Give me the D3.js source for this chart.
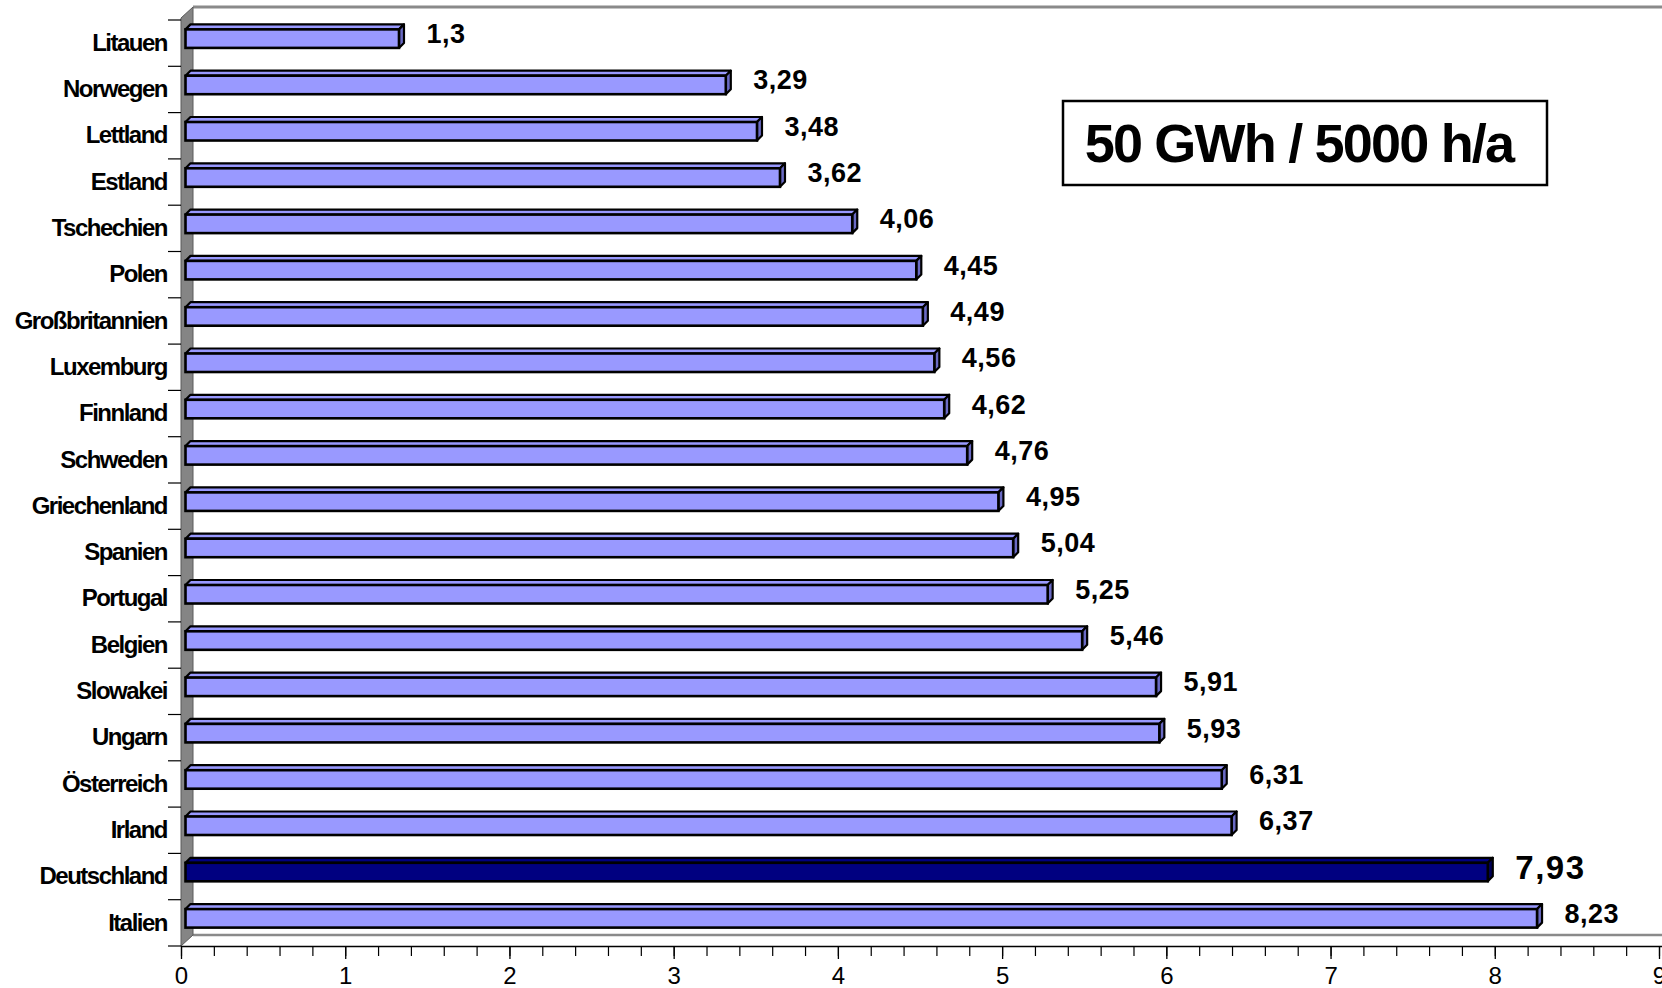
<!DOCTYPE html>
<html>
<head>
<meta charset="utf-8">
<script src="https://cdn.jsdelivr.net/npm/d3@7"></script>
<style>
  html, body { margin: 0; padding: 0; background: #ffffff; }
  svg { display: block; font-family: "Liberation Sans", Arial, Helvetica, sans-serif; }
</style>
</head>
<body>
<svg id="chart" width="1662" height="988"></svg>
<script>
// Countries, top to bottom
const categories = ["Litauen", "Norwegen", "Lettland", "Estland", "Tschechien", "Polen",
  "Großbritannien", "Luxemburg", "Finnland", "Schweden", "Griechenland", "Spanien",
  "Portugal", "Belgien", "Slowakei", "Ungarn", "Österreich", "Irland", "Deutschland", "Italien"];

// Values per country
const values = [1.3, 3.29, 3.48, 3.62, 4.06, 4.45, 4.49, 4.56, 4.62, 4.76, 4.95, 5.04,
  5.25, 5.46, 5.91, 5.93, 6.31, 6.37, 7.93, 8.23];

// Highlighted country
const highlighted = ["Deutschland"];

// Value axis ticks
const majorTicks = [0, 1, 2, 3, 4, 5, 6, 7, 8, 9];
const minorStep = 0.2;

// Annotation box
const boxText = "50 GWh / 5000 h/a";

(function draw() {
  const svg = d3.select("#chart");
  const W = 1662;

  // Plot geometry (front plane) and 3D depth of walls
  const plotLeft = 181, plotRight = 1659, plotTop = 20, plotBottom = 946;
  const depth = 12;

  const x = d3.scaleLinear().domain([0, 9]).range([plotLeft, plotRight]);
  const y = d3.scaleBand().domain(categories).range([plotTop, plotBottom]).paddingInner(0).paddingOuter(0);

  const data = categories.map((c, i) => ({ name: c, value: values[i] }));

  // Back wall top edge
  svg.append("line")
    .attr("x1", plotLeft + depth).attr("x2", W)
    .attr("y1", plotTop - depth - 1).attr("y2", plotTop - depth - 1)
    .attr("stroke", "#8a8a8a").attr("stroke-width", 3);

  // Floor
  svg.append("polygon")
    .attr("points", [[plotLeft, plotBottom], [plotLeft + depth, plotBottom - depth + 1], [W, plotBottom - depth + 1], [W, plotBottom]].join(" "))
    .attr("fill", "#ffffff");
  svg.append("line")
    .attr("x1", plotLeft + depth).attr("x2", W)
    .attr("y1", plotBottom - depth + 1).attr("y2", plotBottom - depth + 1)
    .attr("stroke", "#8a8a8a").attr("stroke-width", 2.5);

  // Side wall
  svg.append("polygon")
    .attr("points", [[plotLeft, plotTop - 2], [plotLeft + depth, plotTop - depth - 1], [plotLeft + depth, plotBottom - depth + 1], [plotLeft, plotBottom]].join(" "))
    .attr("fill", "#858585")
    .attr("stroke", "#5a5a5a").attr("stroke-width", 1);

  // Category boundary ticks
  svg.append("g").selectAll("line")
    .data(d3.range(categories.length + 1))
    .join("line")
    .attr("x1", plotLeft - 13).attr("x2", plotLeft)
    .attr("y1", i => plotTop + i * y.step()).attr("y2", i => plotTop + i * y.step())
    .attr("stroke", "#000").attr("stroke-width", 1.2);

  // Category labels
  const yAxis = svg.append("g")
    .attr("transform", `translate(${plotLeft},0)`)
    .call(d3.axisLeft(y).tickSize(0).tickPadding(14));
  yAxis.select(".domain").remove();
  yAxis.selectAll("text")
    .attr("font-family", "'Liberation Sans', Arial, sans-serif")
    .attr("font-size", 24)
    .attr("font-weight", "bold")
    .attr("letter-spacing", "-1.5px")
    .attr("fill", "#000");

  // Bars (3D boxes)
  const bh = y.bandwidth() * 0.4;    // front face height
  const o1 = 4.5;                      // front face offset into depth
  const d = 5;                         // bar depth
  const bars = svg.append("g").selectAll("g").data(data).join("g");

  const isHi = dd => highlighted.includes(dd.name);
  const frontFill = dd => isHi(dd) ? "#000080" : "#9999ff";
  const topFill = dd => isHi(dd) ? "#000080" : "#9999ff";
  const sideFill = dd => isHi(dd) ? "#00005a" : "#6a6ac4";

  function geo(dd) {
    const yc = y(dd.name) + y.bandwidth() / 2 - o1;
    const x0 = x(0) + o1, x1 = x(dd.value) + o1;
    return { x0, x1, yt: yc - bh / 2, yb: yc + bh / 2 };
  }

  bars.append("polygon")
    .attr("points", dd => { const g = geo(dd); return [[g.x0, g.yt], [g.x0 + d, g.yt - d], [g.x1 + d, g.yt - d], [g.x1, g.yt]].join(" "); })
    .attr("fill", topFill).attr("stroke", "#000").attr("stroke-width", 2.2).attr("stroke-linejoin", "round");
  bars.append("polygon")
    .attr("points", dd => { const g = geo(dd); return [[g.x1, g.yt], [g.x1 + d, g.yt - d], [g.x1 + d, g.yb - d], [g.x1, g.yb]].join(" "); })
    .attr("fill", sideFill).attr("stroke", "#000").attr("stroke-width", 2.2).attr("stroke-linejoin", "round");
  bars.append("rect")
    .attr("x", dd => geo(dd).x0)
    .attr("y", dd => geo(dd).yt)
    .attr("width", dd => geo(dd).x1 - geo(dd).x0)
    .attr("height", bh)
    .attr("fill", frontFill).attr("stroke", "#000").attr("stroke-width", 2.6);

  // Value labels
  const fmt = v => String(v).replace(".", ",");
  svg.append("g").selectAll("text").data(data).join("text")
    .attr("x", dd => x(dd.value) + 32)
    .attr("y", dd => y(dd.name) + y.bandwidth() / 2 - 9)
    .attr("dominant-baseline", "central")
    .attr("font-weight", "bold")
    .attr("font-size", dd => isHi(dd) ? 33 : 27)
    .attr("letter-spacing", dd => isHi(dd) ? "1.5px" : "0.5px")
    .attr("fill", "#000")
    .text(dd => fmt(dd.value));

  // Value axis: minor ticks
  const minorVals = d3.range(0, 9 + 1e-9, minorStep);
  const xMinor = svg.append("g")
    .attr("transform", `translate(0,${plotBottom})`)
    .call(d3.axisBottom(x).tickValues(minorVals).tickSize(10).tickFormat(""));
  xMinor.select(".domain").remove();
  xMinor.selectAll("line").attr("stroke", "#000").attr("stroke-width", 1.2);

  // Value axis: major ticks and labels
  const xAxis = svg.append("g")
    .attr("transform", `translate(0,${plotBottom})`)
    .call(d3.axisBottom(x).tickValues(majorTicks).tickSize(13).tickPadding(8).tickSizeOuter(0).tickFormat(d3.format("d")));
  xAxis.select(".domain").attr("stroke", "#000").attr("stroke-width", 1.5).attr("d", `M${plotLeft},0.5H${W}`);
  xAxis.selectAll("line").attr("stroke", "#000").attr("stroke-width", 1.3);
  xAxis.selectAll("text")
    .attr("font-family", "'Liberation Sans', Arial, sans-serif")
    .attr("font-size", 24)
    .attr("fill", "#000");

  // Annotation box
  const box = svg.append("g");
  box.append("rect")
    .attr("x", 1063).attr("y", 101).attr("width", 484).attr("height", 84)
    .attr("fill", "#fff").attr("stroke", "#000").attr("stroke-width", 2.5);
  box.append("text")
    .attr("x", 1063 + 484 / 2 - 6).attr("y", 162)
    .attr("text-anchor", "middle")
    .attr("font-size", 54)
    .attr("font-weight", "bold")
    .attr("letter-spacing", "-1.8px")
    .attr("fill", "#000")
    .text(boxText);
})();
</script>
</body>
</html>
